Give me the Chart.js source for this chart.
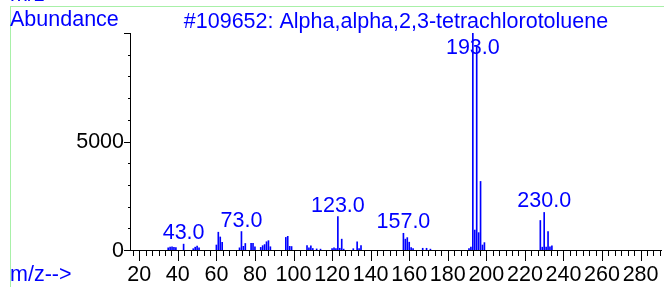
<!DOCTYPE html>
<html>
<head>
<meta charset="utf-8">
<script src="https://cdn.jsdelivr.net/npm/chart.js@4"></script>
<style>
html,body{margin:0;padding:0;background:#fff;overflow:hidden}
#wrap{position:relative;width:664px;height:287px}
</style>
</head>
<body>
<div id="wrap"><canvas id="msChart" width="664" height="287"></canvas></div>
<script>
// spectrum
const masses = [35,36,37,38,39,43,48,49,50,51,60,61,62,63,72,73,74,75,78,79,80,
83,84,85,86,87,88,96,97,98,99,107,108,109,110,112,114,120,121,122,123,124,125,126,
131,133,134,135,157,158,159,160,161,162,167,169,171,
191,192,193,194,195,196,197,198,199,228,229,230,231,232,233,234];
const abundance = [100,130,150,120,110,270,60,130,180,100,230,820,600,350,100,850,170,300,310,310,150,
120,200,250,380,430,150,580,630,170,160,200,100,190,70,50,40,60,100,60,1540,80,500,40,
60,380,60,200,770,500,570,360,110,60,80,80,40,
60,130,10000,920,9350,800,3160,230,340,1360,130,1730,130,850,150,190];
const peakLabels = [43,73,123,157,193,230];
const xTicks = [20,40,60,80,100,120,140,160,180,200,220,240,260,280];
const yTicks = [0,5000];
const title = "#109652: Alpha,alpha,2,3-tetrachlorotoluene";

const FONT = '21.5px "Liberation Sans", Arial, sans-serif';
const BLUE = '#0000ff';

const decor = {
  id: 'decor',
  afterDraw(chart) {
    const c = chart.ctx;
    const xs = chart.scales.x, ys = chart.scales.y;
    const a = chart.chartArea;
    c.save();

    // green frame
    c.strokeStyle = '#a8f0a8';
    c.lineWidth = 1;
    c.beginPath();
    c.moveTo(10, 6.5); c.lineTo(664, 6.5);
    c.moveTo(10.5, 6); c.lineTo(10.5, 287);
    c.stroke();

    c.font = FONT;
    c.fillStyle = BLUE;
    c.textAlign = 'left';
    c.textBaseline = 'alphabetic';
    c.fillText('m/z-->', 10, 1);
    c.fillText('Abundance', 10, 26);
    c.fillText('m/z-->', 10, 281);
    c.textAlign = 'center';
    c.fillText(title, (a.left + a.right) / 2, 28);

    // axes
    c.strokeStyle = '#000';
    c.beginPath();
    c.moveTo(a.left + 0.5, a.top); c.lineTo(a.left + 0.5, a.bottom + 1);
    c.moveTo(a.left, a.bottom + 0.5); c.lineTo(a.right, a.bottom + 0.5);
    // y ticks
    for (let v = 0; v <= ys.max; v += 1000) {
      const y = Math.round(ys.getPixelForValue(v)) + 0.5;
      const len = v % 5000 === 0 ? 6 : 2;
      c.moveTo(a.left - len, y); c.lineTo(a.left, y);
    }
    // x ticks, minor every 20/6
    for (let k = Math.ceil((xs.min - 20) * 3 / 10); 20 + k * 10 / 3 <= xs.max; k++) {
      const v = 20 + k * 10 / 3;
      const x = Math.round(xs.getPixelForValue(v)) + 0.5;
      const len = k % 6 === 0 ? 11 : 6;
      c.moveTo(x, a.bottom); c.lineTo(x, a.bottom + len);
    }
    c.stroke();

    c.fillStyle = '#000';
    c.textAlign = 'right';
    c.textBaseline = 'middle';
    yTicks.forEach(v => c.fillText(String(v), a.left - 6, ys.getPixelForValue(v) + 1));
    c.textAlign = 'center';
    c.textBaseline = 'alphabetic';
    xTicks.forEach(v => c.fillText(String(v), xs.getPixelForValue(v), 281));

    // peak labels
    c.fillStyle = BLUE;
    peakLabels.forEach(m => {
      const v = abundance[masses.indexOf(m)];
      const y = Math.max(ys.getPixelForValue(v) - 5, 54);
      c.fillText(m.toFixed(1), xs.getPixelForValue(m), y);
    });
    c.restore();
  }
};

new Chart(document.getElementById('msChart'), {
  type: 'bar',
  data: {
    datasets: [{
      data: masses.map((m, i) => ({ x: m, y: abundance[i] })),
      backgroundColor: BLUE,
      borderWidth: 0,
      barThickness: 1
    }]
  },
  options: {
    responsive: false,
    animation: false,
    layout: { padding: { left: 130, right: 2, top: 33, bottom: 37 } },
    plugins: { legend: { display: false }, tooltip: { enabled: false } },
    scales: {
      x: { type: 'linear', min: 15.2, max: 291.1, offset: false, display: false },
      y: { min: 0, max: 10000, display: false }
    }
  },
  plugins: [decor]
});
</script>
</body>
</html>
